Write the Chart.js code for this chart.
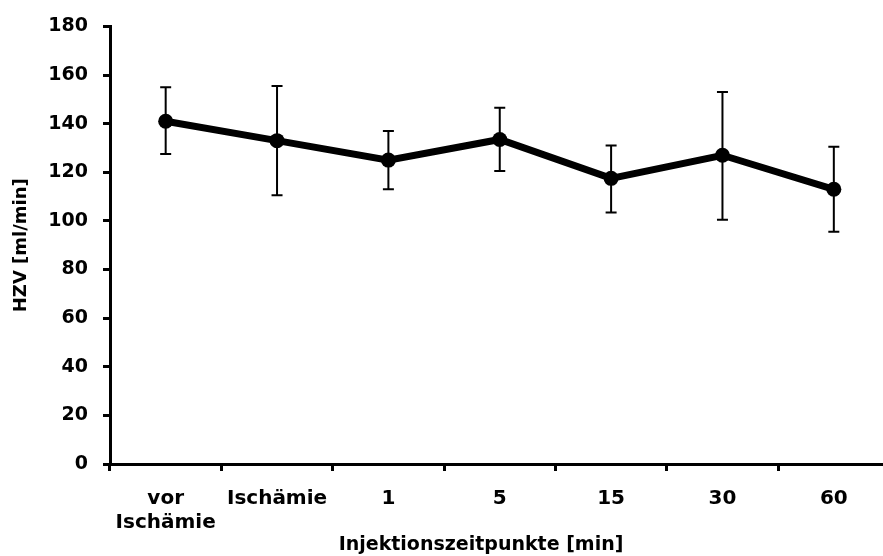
<!DOCTYPE html>
<html>
<head>
<meta charset="utf-8">
<script src="https://cdn.jsdelivr.net/npm/chart.js@4"></script>
<style>
  body { margin: 0; background: #fff; overflow: hidden; }
  #wrap { width: 897px; height: 556px; }
</style>
</head>
<body>
<div id="wrap"><canvas id="hzvChart"></canvas></div>
<script>
// Data
const categories = [["vor", "Ischämie"], "Ischämie", "1", "5", "15", "30", "60"];
const means = [141, 133, 125, 133.5, 117.5, 127, 113];
const upper = [155, 155.5, 137, 146.5, 131, 153, 130.5];
const lower = [127.5, 110.5, 113, 120.5, 103.5, 100.5, 95.5];
const xTitle = "Injektionszeitpunkte [min]";

const font = "'DejaVu Sans', Verdana, sans-serif";

// Error bars, drawn through the scales
const errorBars = {
  id: "errorBars",
  afterDatasetsDraw(chart) {
    const { ctx, scales } = chart;
    const meta = chart.getDatasetMeta(0);
    ctx.save();
    ctx.strokeStyle = "#000";
    ctx.lineWidth = 2;
    meta.data.forEach((pt, i) => {
      const x = pt.x;
      const yTop = scales.y.getPixelForValue(upper[i]);
      const yBot = scales.y.getPixelForValue(lower[i]);
      ctx.beginPath();
      ctx.moveTo(x, yTop);
      ctx.lineTo(x, yBot);
      ctx.moveTo(x - 5.5, yTop);
      ctx.lineTo(x + 5.5, yTop);
      ctx.moveTo(x - 5.5, yBot);
      ctx.lineTo(x + 5.5, yBot);
      ctx.stroke();
    });
    ctx.restore();
  },
};

// X axis title, centred under the visible part of the axis
const xAxisTitle = {
  id: "xAxisTitle",
  afterDraw(chart) {
    const { ctx, chartArea } = chart;
    ctx.save();
    ctx.fillStyle = "#000";
    ctx.font = "bold 19px " + font;
    ctx.textAlign = "center";
    ctx.textBaseline = "middle";
    ctx.fillText(xTitle, (chartArea.left + 852) / 2, 545);
    ctx.restore();
  },
};

const ctx = document.getElementById("hzvChart").getContext("2d");
new Chart(ctx, {
  type: "line",
  data: {
    labels: categories,
    datasets: [
      {
        data: means,
        borderColor: "#000",
        backgroundColor: "#000",
        borderWidth: 7,
        pointRadius: 7.5,
        pointBackgroundColor: "#000",
        pointBorderWidth: 0,
        tension: 0,
      },
    ],
  },
  options: {
    responsive: true,
    maintainAspectRatio: false,
    animation: false,
    layout: { padding: { top: 20, right: 0, bottom: 0, left: 0 } },
    plugins: { legend: { display: false }, tooltip: { enabled: false } },
    scales: {
      x: {
        offset: true,
        grid: {
          offset: true,
          drawOnChartArea: false,
          tickLength: 7,
          tickColor: "#000",
          tickWidth: 3,
        },
        border: { color: "#000", width: 3 },
        ticks: {
          color: "#000",
          font: { family: font, size: 20, weight: "bold", lineHeight: 1.2 },
          padding: 16,
          maxRotation: 0,
        },
        afterFit: (s) => { s.height = 92; },
      },
      y: {
        min: 0,
        max: 180,
        ticks: {
          stepSize: 20,
          color: "#000",
          font: { family: font, size: 19, weight: "bold" },
          padding: 15,
        },
        grid: {
          drawOnChartArea: false,
          tickLength: 7,
          tickColor: "#000",
          tickWidth: 3,
        },
        border: { color: "#000", width: 3 },
        title: {
          display: true,
          text: "HZV [ml/min]",
          color: "#000",
          font: { family: font, size: 18, weight: "bold" },
          padding: { top: 11, bottom: 0 },
        },
        afterFit: (s) => { s.width = 110; },
      },
    },
  },
  plugins: [errorBars, xAxisTitle],
});
</script>
</body>
</html>
